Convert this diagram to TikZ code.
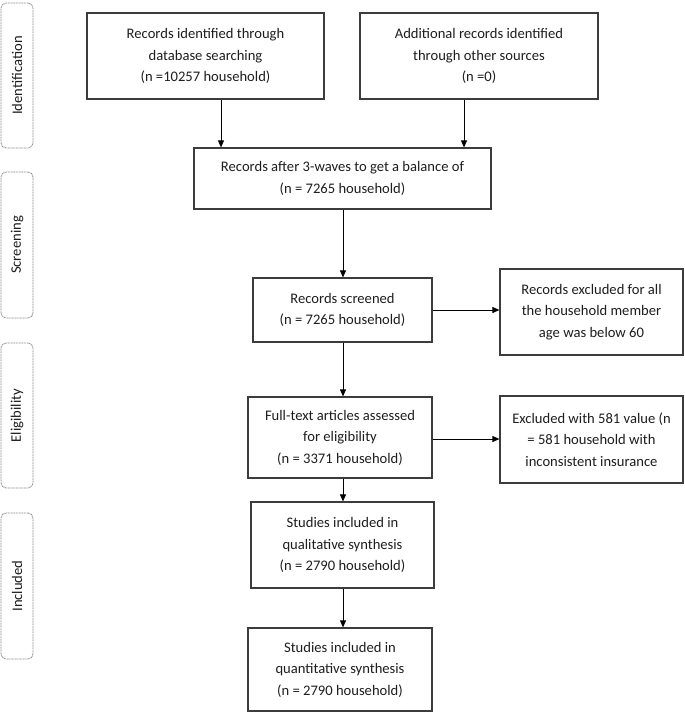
\documentclass[tikz,border=0pt]{standalone}
\usepackage{fontspec}
\setmainfont{Carlito}
\usetikzlibrary{arrows.meta}
\definecolor{boxline}{HTML}{3C3C3C}
\definecolor{sideline}{HTML}{8A8A8A}
\definecolor{txt}{HTML}{1E1E1E}
\tikzset{
  box/.style={draw=boxline, line width=1.2pt, fill=white, align=center, inner sep=0pt, text=txt,
    font=\fontsize{14.6}{21.5}\selectfont},
  side/.style={draw=sideline, line width=0.8pt, dash pattern=on 1pt off 0.6pt, rounded corners=5pt,
    inner sep=0pt, minimum width=32pt, text=txt, font=\fontsize{14.6}{21.5}\selectfont},
  arr/.style={draw=black, line width=0.9pt, -{Triangle[length=7pt,width=6pt]}},
}
\newcommand{\boxat}[6]{% name, x1, y1, x2, y2, text
  \node[box, minimum width={#4-#2}, minimum height={#5-#3}] (#1) at ({(#2+#4)/2},{(#3+#5)/2}) {#6};}
\begin{document}
\begin{tikzpicture}[x=1pt,y=-1pt]
\useasboundingbox (0,0) rectangle (685,713);
\fill[white] (0,0) rectangle (685,713);
% side labels
\node[side, minimum height=145pt] (sid) at (17,75.5) {\rotatebox{90}{Identification}};
\node[side, minimum height=146pt] (ssc) at (17,245) {\rotatebox{90}{Screening}};
\node[side, minimum height=145pt] (sel) at (17,415.5) {\rotatebox{90}{Eligibility}};
\node[side, minimum height=146pt] (sin) at (17,586) {\rotatebox{90}{Included}};
% boxes
\boxat{b1}{87}{13}{324}{99}{Records identified through\\database searching\\(n =10257 household)}
\boxat{b2}{360}{13}{598}{99}{Additional records identified\\through other sources\\(n =0)}
\boxat{b3}{194}{148}{491}{209}{Records after 3-waves to get a balance of\\(n = 7265 household)}
\boxat{b4}{253}{278}{432}{342}{Records screened\\(n = 7265 household)}
\boxat{b5}{500}{269}{683}{355}{Records excluded for all\\the household member\\age was below 60}
\boxat{b6}{248}{397}{432}{478}{Full-text articles assessed\\for eligibility\\(n = 3371 household)}
\boxat{b7}{500}{396}{683}{483}{Excluded with 581 value (n\\= 581 household with\\inconsistent insurance}
\boxat{b8}{251}{502}{434}{588}{Studies included in\\qualitative synthesis\\(n = 2790 household)}
\boxat{b9}{248}{628}{432}{711}{Studies included in\\quantitative synthesis\\(n = 2790 household)}
% connector columns
\coordinate (c1) at (221,0);
\coordinate (c2) at (464,0);
\coordinate (cm) at (343,0);
\coordinate (r1) at (0,310);
\coordinate (r2) at (0,439);
\draw[arr] (b1.south -| c1) -- (b3.north -| c1);
\draw[arr] (b2.south -| c2) -- (b3.north -| c2);
\draw[arr] (b3.south -| cm) -- (b4.north -| cm);
\draw[arr] (b4.south -| cm) -- (b6.north -| cm);
\draw[arr] (b6.south -| cm) -- (b8.north -| cm);
\draw[arr] (b8.south -| cm) -- (b9.north -| cm);
\draw[arr] (b4.east |- r1) -- (b5.west |- r1);
\draw[arr] (b6.east |- r2) -- (b7.west |- r2);
\end{tikzpicture}
\end{document}
